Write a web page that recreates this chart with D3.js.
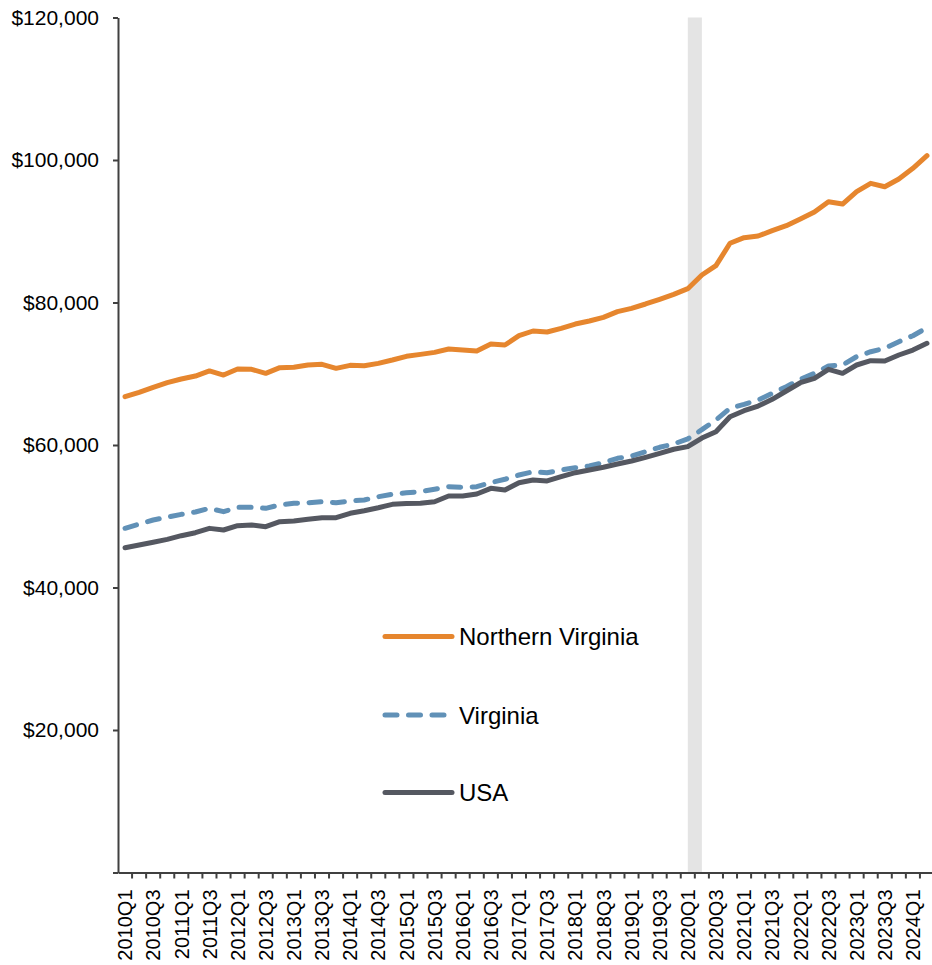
<!DOCTYPE html>
<html>
<head>
<meta charset="utf-8">
<script src="https://cdn.jsdelivr.net/npm/d3@7"></script>
<style>
  body { margin: 0; background: #fff; }
  svg { display: block; font-family: "Liberation Sans", Arial, sans-serif; }
</style>
</head>
<body>
<div id="chart"></div>
<script>
// Quarterly categories, 2010Q1 .. 2024Q2
var quarters = [
  "2010Q1","2010Q2","2010Q3","2010Q4","2011Q1","2011Q2","2011Q3","2011Q4",
  "2012Q1","2012Q2","2012Q3","2012Q4","2013Q1","2013Q2","2013Q3","2013Q4",
  "2014Q1","2014Q2","2014Q3","2014Q4","2015Q1","2015Q2","2015Q3","2015Q4",
  "2016Q1","2016Q2","2016Q3","2016Q4","2017Q1","2017Q2","2017Q3","2017Q4",
  "2018Q1","2018Q2","2018Q3","2018Q4","2019Q1","2019Q2","2019Q3","2019Q4",
  "2020Q1","2020Q2","2020Q3","2020Q4","2021Q1","2021Q2","2021Q3","2021Q4",
  "2022Q1","2022Q2","2022Q3","2022Q4","2023Q1","2023Q2","2023Q3","2023Q4",
  "2024Q1","2024Q2"
];

var northernVirginia = [
  66780, 67400, 68100, 68750, 69260, 69680, 70390, 69820,
  70670, 70620, 70060, 70850, 70900, 71230, 71320, 70760,
  71180, 71130, 71460, 71930, 72450, 72720, 73000, 73470,
  73330, 73190, 74170, 74030, 75340, 76000, 75860, 76380,
  76980, 77400, 77920, 78710, 79180, 79790, 80450, 81150,
  81940, 83860, 85170, 88310, 89100, 89330, 90080, 90780,
  91720, 92700, 94150, 93820, 95550, 96720, 96250, 97330,
  98830, 100600
];

var virginia = [
  48310, 48900, 49470, 49870, 50270, 50600, 51110, 50640,
  51250, 51250, 51110, 51580, 51820, 51900, 52040, 51900,
  52140, 52280, 52740, 53080, 53300, 53450, 53780, 54150,
  54060, 54150, 54710, 55190, 55790, 56250, 56110, 56490,
  56810, 57050, 57520, 58130, 58460, 59060, 59680, 60140,
  60870, 62150, 63510, 65150, 65710, 66320, 67250, 68180,
  69220, 70060, 71090, 71230, 72400, 73090, 73570, 74500,
  75340, 76460
];

var usa = [
  45590, 45960, 46340, 46760, 47270, 47690, 48300, 48070,
  48670, 48770, 48530, 49240, 49330, 49570, 49800, 49800,
  50410, 50780, 51200, 51670, 51800, 51820, 52040, 52840,
  52840, 53120, 53920, 53680, 54710, 55090, 54950, 55550,
  56110, 56490, 56870, 57330, 57750, 58270, 58830, 59400,
  59770, 60980, 61870, 63970, 64810, 65470, 66410, 67580,
  68740, 69360, 70620, 70060, 71230, 71830, 71790, 72630,
  73330, 74270
];

var yTicks = [0, 20000, 40000, 60000, 80000, 100000, 120000];
var xTickLabels = quarters.filter(function (q) { return /Q[13]$/.test(q); });
var recession = ["2020Q1", "2020Q2"];

var series = [
  { name: "Northern Virginia", values: northernVirginia, color: "#E6862E", dash: null },
  { name: "Virginia", values: virginia, color: "#6191B7", dash: "12,11.5" },
  { name: "USA", values: usa, color: "#555861", dash: null }
];

var W = 932, H = 965;
var plot = { left: 118, right: 934, top: 17.5, bottom: 872.5 };

var svg = d3.select("#chart").append("svg")
  .attr("width", W)
  .attr("height", H);

var x = d3.scaleBand().domain(quarters).range([plot.left, plot.right]).padding(0);
var cx = function (q) { return x(q) + x.bandwidth() / 2; };
var y = d3.scaleLinear().domain([0, 120000]).range([plot.bottom, plot.top]);

// recession shading between the two quarter centres
svg.append("rect")
  .attr("x", cx(recession[0]))
  .attr("y", plot.top)
  .attr("width", cx(recession[1]) - cx(recession[0]))
  .attr("height", plot.bottom - plot.top)
  .attr("fill", "#E4E4E4");

// Y axis
var yAxis = svg.append("g")
  .attr("transform", "translate(" + plot.left + ",0)")
  .call(d3.axisLeft(y)
    .tickValues(yTicks)
    .tickSize(5)
    .tickSizeOuter(0)
    .tickPadding(14)
    .tickFormat(function (d) { return d === 0 ? "" : "$" + d3.format(",")(d); }));
yAxis.select(".domain").attr("stroke", "#404040").attr("stroke-width", 2);
yAxis.selectAll(".tick line").attr("stroke", "#404040").attr("stroke-width", 2);
yAxis.selectAll(".tick text").attr("font-size", "21px").attr("fill", "#000");

// X axis: labels every other quarter
var xAxis = svg.append("g")
  .attr("transform", "translate(0," + plot.bottom + ")")
  .call(d3.axisBottom(x).tickValues(xTickLabels).tickSize(0).tickSizeOuter(0));
xAxis.select(".domain").attr("stroke", "#404040").attr("stroke-width", 2);
xAxis.selectAll(".tick text")
  .attr("font-size", "20px")
  .attr("fill", "#000")
  .attr("transform", "rotate(-90)")
  .attr("text-anchor", "end")
  .attr("x", -17)
  .attr("y", 0)
  .attr("dy", "0.36em");

// tick marks between categories
var bounds = quarters.map(function (q) { return x(q); }).concat([plot.right]);
svg.append("g").selectAll("line")
  .data(bounds.slice(1))
  .enter().append("line")
  .attr("x1", function (d) { return d; })
  .attr("x2", function (d) { return d; })
  .attr("y1", plot.bottom)
  .attr("y2", plot.bottom + 6)
  .attr("stroke", "#404040")
  .attr("stroke-width", 2);

// lines
var line = d3.line()
  .x(function (d, i) { return cx(quarters[i]); })
  .y(function (d) { return y(d); });

series.forEach(function (s) {
  svg.append("path")
    .datum(s.values)
    .attr("fill", "none")
    .attr("stroke", s.color)
    .attr("stroke-width", 5)
    .attr("stroke-linejoin", "round")
    .attr("stroke-linecap", "round")
    .attr("stroke-dasharray", s.dash)
    .attr("d", line);
});

// legend
var legendY = [636.5, 715, 792.5];
var legend = svg.append("g");
series.forEach(function (s, i) {
  legend.append("line")
    .attr("x1", 385).attr("x2", 452)
    .attr("y1", legendY[i]).attr("y2", legendY[i])
    .attr("stroke", s.color)
    .attr("stroke-width", 5)
    .attr("stroke-linecap", "round")
    .attr("stroke-dasharray", s.dash);
  legend.append("text")
    .attr("x", 459)
    .attr("y", legendY[i])
    .attr("dy", "0.36em")
    .attr("font-size", "24px")
    .attr("fill", "#000")
    .text(s.name);
});
</script>
</body>
</html>
